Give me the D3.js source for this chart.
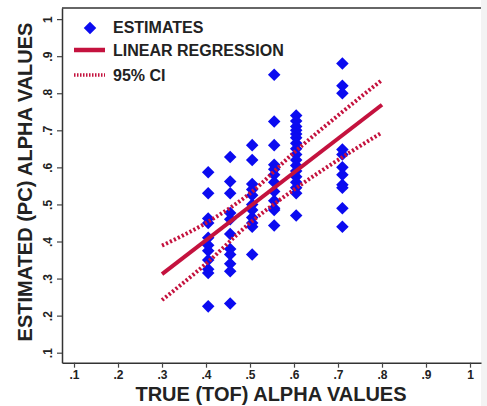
<!DOCTYPE html>
<html>
<head>
<meta charset="utf-8">
<script src="https://cdn.jsdelivr.net/npm/d3@7"></script>
<style>
  body { margin: 0; background: #fff; }
  text { font-family: "Liberation Sans", Arial, sans-serif; }
</style>
</head>
<body>
<script>
const width = 487;
const height = 406;

// true (TOF) alpha for each column of estimates
const trueAlpha = [0.405, 0.455, 0.505, 0.555, 0.605, 0.71];
// estimated (PC) alpha values, one list per column
const est405 = [0.587, 0.53, 0.462, 0.45, 0.41, 0.39, 0.375, 0.35, 0.325, 0.315, 0.225];
const est455 = [0.628, 0.562, 0.53, 0.477, 0.46, 0.42, 0.38, 0.365, 0.34, 0.32, 0.233];
const est505 = [0.66, 0.62, 0.555, 0.54, 0.525, 0.5, 0.485, 0.465, 0.45, 0.44, 0.365];
const est555 = [0.85, 0.724, 0.66, 0.607, 0.595, 0.58, 0.56, 0.535, 0.51, 0.49, 0.485, 0.443];
const est605 = [0.74, 0.725, 0.71, 0.70, 0.69, 0.68, 0.665, 0.65, 0.635, 0.62, 0.605, 0.59, 0.575, 0.56, 0.545, 0.53, 0.47];
const est71 = [0.88, 0.82, 0.80, 0.648, 0.635, 0.60, 0.58, 0.553, 0.545, 0.49, 0.44];
const estimates = [est405, est455, est505, est555, est605, est71];

// fitted line and 95% CI
const fitX = [0.3, 0.8];
const fitY = [0.312, 0.769];
const ciX = [0.3, 0.4, 0.5, 0.6, 0.7, 0.8];
const ciUpper = [0.389, 0.45, 0.53, 0.64, 0.74, 0.836];
const ciLower = [0.242, 0.34, 0.45, 0.54, 0.62, 0.694];

const ticks = [0.1, 0.2, 0.3, 0.4, 0.5, 0.6, 0.7, 0.8, 0.9, 1];
const tickFmt = d => d === 1 ? "1" : d3.format(".1f")(d).replace(/^0/, "");

const red = "#c4123e";
const blue = "#0b0bf0";

const x = d3.scaleLinear().domain([0.0727, 1.025]).range([62, 481]);
const y = d3.scaleLinear().domain([0.073, 1.030]).range([362.7, 8]);

const svg = d3.select("body").append("svg")
    .attr("width", width)
    .attr("height", height);

svg.append("rect").attr("x", 481).attr("y", 0).attr("width", 6).attr("height", height).attr("fill", "#f3f3f3");

// frame top line
svg.append("line")
    .attr("x1", 62).attr("x2", 481).attr("y1", 8).attr("y2", 8)
    .attr("stroke", "#333").attr("stroke-width", 1.5);

const xAxis = svg.append("g")
    .attr("transform", "translate(0,362.7)")
    .call(d3.axisBottom(x).tickValues(ticks).tickFormat(tickFmt).tickSize(5).tickPadding(3).tickSizeOuter(0));

const yAxis = svg.append("g")
    .attr("transform", "translate(62,0)")
    .call(d3.axisLeft(y).tickValues(ticks).tickFormat(tickFmt).tickSize(5).tickSizeOuter(0));

[xAxis, yAxis].forEach(g => {
    g.select(".domain").attr("stroke", "#333").attr("stroke-width", 1.5);
    g.selectAll(".tick line").attr("stroke", "#444").attr("stroke-width", 1.2);
    g.selectAll(".tick text").attr("fill", "#222").style("font-size", "12px").style("font-weight", "bold");
});

yAxis.selectAll(".tick text")
    .attr("text-anchor", "middle")
    .attr("transform", "translate(-13,0) rotate(-90)")
    .attr("dy", "0.35em")
    .attr("x", 0).attr("y", -1);

// axis titles
svg.append("text")
    .attr("x", 271).attr("y", 401)
    .attr("text-anchor", "middle")
    .style("font-size", "20px").style("font-weight", "bold").attr("fill", "#222")
    .text("TRUE (TOF) ALPHA VALUES");

svg.append("text")
    .attr("transform", "translate(32,182) rotate(-90)")
    .attr("text-anchor", "middle")
    .style("font-size", "20px").style("font-weight", "bold").attr("fill", "#222")
    .text("ESTIMATED (PC) ALPHA VALUES");

// points
const points = [];
trueAlpha.forEach((t, i) => estimates[i].forEach(v => points.push({ x: t, y: v })));

const diamond = d3.symbol().type(d3.symbolDiamond2).size(100);

svg.append("g").selectAll("path")
    .data(points)
    .enter()
    .append("path")
    .attr("d", diamond)
    .attr("transform", d => `translate(${x(d.x)},${y(d.y)})`)
    .attr("fill", blue);

// CI and regression
const line = d3.line().x(d => x(d[0])).y(d => y(d[1]));

[ciUpper, ciLower].forEach(arr => {
    svg.append("path")
        .attr("d", d3.line().curve(d3.curveMonotoneX).x(d => x(d[0])).y(d => y(d[1]))(d3.zip(ciX, arr)))
        .attr("fill", "none")
        .attr("stroke", red)
        .attr("stroke-width", 4)
        .attr("stroke-dasharray", "2.2,2.2");
});

svg.append("path")
    .attr("d", line(d3.zip(fitX, fitY)))
    .attr("fill", "none")
    .attr("stroke", red)
    .attr("stroke-width", 4);

// legend
const legend = svg.append("g");
legend.append("path")
    .attr("d", diamond)
    .attr("transform", "translate(90,28)")
    .attr("fill", blue);
legend.append("line")
    .attr("x1", 74).attr("x2", 105).attr("y1", 50).attr("y2", 50)
    .attr("stroke", red).attr("stroke-width", 4.5);
legend.append("line")
    .attr("x1", 74).attr("x2", 105).attr("y1", 75).attr("y2", 75)
    .attr("stroke", red).attr("stroke-width", 3.5).attr("stroke-dasharray", "1.5,1.5");

const legendLabels = ["ESTIMATES", "LINEAR REGRESSION", "95% CI"];
legend.selectAll("text")
    .data(legendLabels)
    .enter()
    .append("text")
    .attr("x", 113)
    .attr("y", (d, i) => [33, 56, 81][i])
    .style("font-size", "16px").style("font-weight", "bold").attr("fill", "#222")
    .text(d => d);
</script>
</body>
</html>
